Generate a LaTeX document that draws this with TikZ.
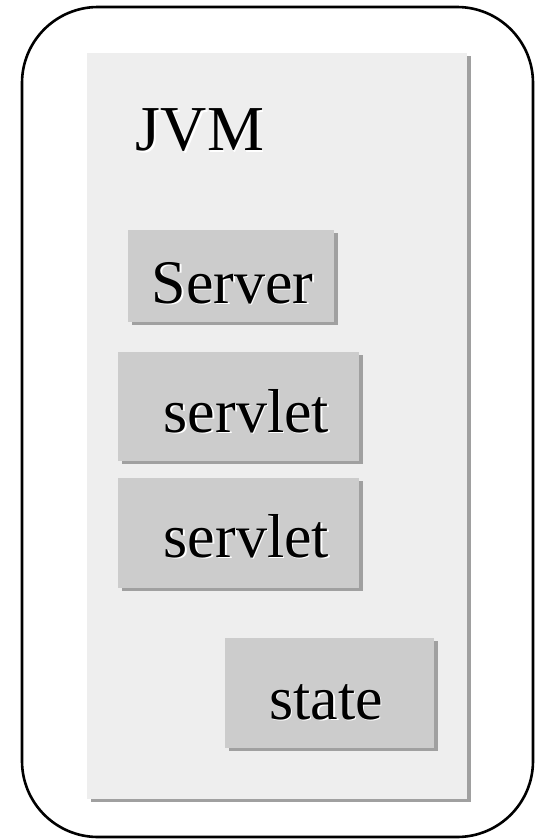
\documentclass[tikz,border=0pt]{standalone}
\usepackage{fontspec}
\setmainfont{Liberation Serif}
\usetikzlibrary{shadows}

\definecolor{panelfill}{HTML}{EEEEEE}
\definecolor{boxfill}{HTML}{CCCCCC}
\definecolor{shadowgray}{HTML}{A0A0A0}

\tikzset{
  frame/.style={draw=black, line width=2.6pt, rounded corners=76pt},
  panel/.style={fill=panelfill, draw=none,
    drop shadow={shadow xshift=3.5pt, shadow yshift=-3pt, fill=shadowgray, opacity=1}},
  block/.style={fill=boxfill, draw=none,
    drop shadow={shadow xshift=3.5pt, shadow yshift=-3pt, fill=shadowgray, opacity=1}},
  labeltext/.style={font=\fontsize{62}{70}\selectfont, inner sep=0pt, anchor=base, text=black},
  glow/.style={font=\fontsize{62}{70}\selectfont, inner sep=0pt, anchor=base, text=white},
}

% place a label with a soft white relief behind it
\newcommand{\reliefnode}[4][62]{%
  \node[glow, font=\fontsize{#1}{#1}\selectfont] at ([shift={(1.6pt,-1.6pt)}]#2) {#4};
  \node[labeltext, font=\fontsize{#1}{#1}\selectfont] (#3) at (#2) {#4};
}

\begin{document}
\begin{tikzpicture}[x=1pt, y=-1pt]
  \useasboundingbox (0,0) rectangle (543,839);

  % outer rounded frame
  \draw[frame] (22,7) rectangle (533,837);

  % JVM panel
  \path[panel] (87,53) rectangle (467,799);
  \coordinate (jvmbase) at (200,150.5);
  \reliefnode[64]{jvmbase}{jvm}{JVM}

  % component blocks
  \path[block] (128,230) rectangle (334,322);
  \path[block] (118,352) rectangle (359,461);
  \path[block] (118,478) rectangle (359,588);
  \path[block] (225,638) rectangle (434,748);

  \coordinate (serverbase) at (232.5,303);
  \coordinate (servletAbase) at (246.5,432);
  \coordinate (servletBbase) at (246.5,557);
  \coordinate (statebase) at (326,719);

  \reliefnode{serverbase}{server}{Server}
  \reliefnode{servletAbase}{servletA}{servlet}
  \reliefnode{servletBbase}{servletB}{servlet}
  \reliefnode{statebase}{state}{state}
\end{tikzpicture}
\end{document}
